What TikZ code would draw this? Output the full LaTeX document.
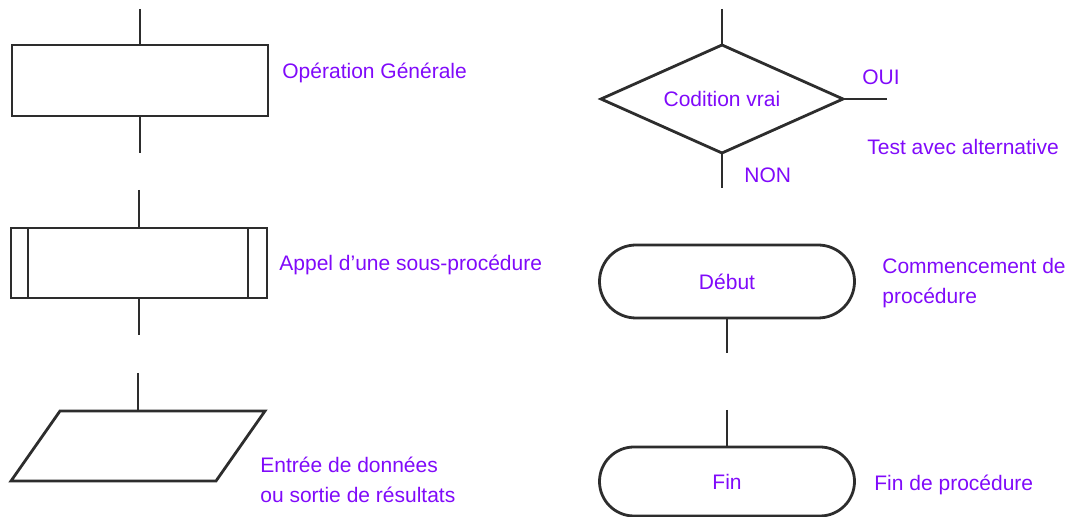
\documentclass[tikz,border=0pt]{standalone}
\usepackage{fontspec}
\setmainfont{Liberation Sans}
\usepackage{tikz}
\usetikzlibrary{positioning, shapes.geometric, shapes.misc}
\definecolor{labelpurple}{RGB}{128,10,250}
\definecolor{linegray}{RGB}{45,45,45}

\tikzset{
  symbol/.style={draw=linegray, line width=1.4pt, fill=white, inner sep=0pt, outer sep=0pt},
  stub/.style={draw=linegray, line width=1.4pt},
  caption/.style={text=labelpurple, font=\fontsize{10.5}{15}\selectfont, inner sep=0pt, anchor=west, align=left}
}

\begin{document}
\begin{tikzpicture}[x=0.5pt, y=-0.5pt]
        \useasboundingbox (0,0) rectangle (1088,517);

        % Left column
        \node[symbol, minimum width=128pt, minimum height=35.5pt] (oper) at (140,80.5) {};
        \node[caption] (oper label) at (282,73) {Opération Générale};
        \coordinate (oper in) at (140,9);
        \coordinate (oper out) at (140,153);

        \node[symbol, minimum width=128pt, minimum height=35pt] (sub) at (139,263) {};
        \node[caption] (sub label) at (279,265) {Appel d'une sous-procédure};
        \coordinate (sub in) at (139,190);
        \coordinate (sub out) at (139,335);

        \node[symbol, trapezium, trapezium left angle=55, trapezium right angle=125,
              inner xsep=39pt, inner ysep=17.5pt] (io) at (138,446) {};
        \node[caption] (io label) at (260,479.5) {Entrée de données\\ou sortie de résultats};
        \coordinate (io in) at (138,373);

        % Right column
        \node[symbol, diamond, shape aspect=2.24, minimum width=121pt, minimum height=54pt, text=labelpurple,
              font=\fontsize{10.5}{12}\selectfont] (cond) at (722,99) {Codition vrai};
        \node[caption] (oui) at (862,77) {OUI};
        \node[caption] (non) at (744,175) {NON};
        \node[caption] (cond label) at (867,147) {Test avec alternative};
        \coordinate (cond in) at (722,9);
        \coordinate (cond yes) at (887,99);
        \coordinate (cond no) at (722,188);

        \node[symbol, rounded rectangle, minimum width=127.5pt, minimum height=36.5pt, text=labelpurple,
              font=\fontsize{10.5}{12}\selectfont] (debut) at (727,281.5) {Début};
        \node[caption] (debut label) at (882,283) {Commencement de\\procédure};
        \coordinate (debut out) at (727,353);

        \node[symbol, rounded rectangle, minimum width=127.5pt, minimum height=34.5pt, text=labelpurple,
              font=\fontsize{10.5}{12}\selectfont] (fin) at (727,481.5) {Fin};
        \node[caption] (fin label) at (874,485) {Fin de procédure};
        \coordinate (fin in) at (727,410);

        % Inner bars of the sub-procedure box
        \draw[stub, line width=1.2pt] ([xshift=8.5pt]sub.north west) -- ([xshift=8.5pt]sub.south west);
        \draw[stub, line width=1.2pt] ([xshift=-9.5pt]sub.north east) -- ([xshift=-9.5pt]sub.south east);

        % Connectors
        \draw[stub] (oper in) -- (oper.north);
        \draw[stub] (oper.south) -- (oper out);
        \draw[stub] (sub in) -- (sub.north);
        \draw[stub] (sub.south) -- (sub out);
        \draw[stub] (io in) -- (io.north);
        \draw[stub] (cond in) -- (cond.north);
        \draw[stub] (cond.east) -- (cond yes);
        \draw[stub] (cond.south) -- (cond no);
        \draw[stub] (debut.south) -- (debut out);
        \draw[stub] (fin in) -- (fin.north);
    \end{tikzpicture}
\end{document}
